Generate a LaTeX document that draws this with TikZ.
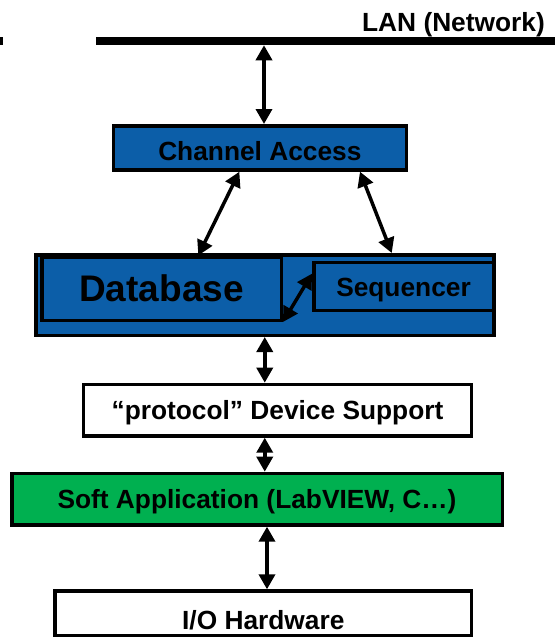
\documentclass[tikz,border=0pt]{standalone}
\usepackage{fontspec}
\setmainfont{Liberation Sans}
\usetikzlibrary{arrows.meta}
\definecolor{epicsblue}{RGB}{12,94,168}
\definecolor{appgreen}{RGB}{0,176,80}
\begin{document}
\begin{tikzpicture}[x=1pt,y=-1pt,
  labelfont/.style={font=\bfseries\fontsize{26.3}{30}\selectfont},
  box/.style={draw=black, line width=3.5pt, inner sep=0pt, text depth=0pt, labelfont},
  link/.style={line width=3.5pt,
    {Triangle[width=16pt,length=15pt]}-{Triangle[width=16pt,length=15pt]}},
]
\useasboundingbox (0,0) rectangle (555,637);

% network bus
\fill (0,37) rectangle (3,44.5);
\node[fill=black, inner sep=0pt, minimum width=459pt, minimum height=7.7pt] (lan) at (325.5,41.2) {};
\node[anchor=base east, inner sep=0pt, labelfont] (lantxt) at (545,31) {LAN (Network)};

% IOC layers
\node[box, fill=epicsblue, minimum width=292.8pt, minimum height=44.2pt, text height=24.3pt] (ca) at (259.85,147.85) {Channel Access};
\node[box, fill=epicsblue, minimum width=458pt, minimum height=80.5pt] (ioc) at (264.75,295) {};
\node[box, fill=epicsblue, minimum width=239.5pt, minimum height=63pt, text height=25.9pt,
      font=\bfseries\fontsize{37}{40}\selectfont] (db) at (161.5,288.75) {Database};
\node[box, fill=epicsblue, minimum width=179.5pt, minimum height=48pt, text height=20.3pt] (seq) at (403.5,286.25) {Sequencer};
\node[box, fill=white, minimum width=388.1pt, minimum height=51.5pt, text height=18.8pt] (dev) at (277.5,410.2) {“protocol” Device Support};
\node[box, fill=appgreen, minimum width=490.5pt, minimum height=51.5pt, text height=18.8pt] (app) at (257,499.2) {Soft Application (LabVIEW, C…)};
\node[box, fill=white, minimum width=416.5pt, minimum height=44.2pt, text height=31.7pt] (hw) at (263.3,613.15) {I/O Hardware};

% connectors
\coordinate (catop) at ([xshift=4.15pt]ca.north);
\draw[link] (catop |- lan.south) -- (catop);
\draw[link] ([xshift=-20.5pt]ca.south) -- ([xshift=36.8pt]db.north);
\draw[link] ([xshift=100.15pt]ca.south) -- ([xshift=127pt]ioc.north);
\draw[link] (db.south east) -- ([yshift=12.6pt]seq.west);
\draw[link] (ioc.south) -- (ioc.south |- dev.north);
\draw[link] (ioc.south |- dev.south) -- (ioc.south |- app.north);
\coordinate (hwtop) at ([xshift=3.7pt]hw.north);
\draw[link] (hwtop |- app.south) -- (hwtop);
\end{tikzpicture}
\end{document}
